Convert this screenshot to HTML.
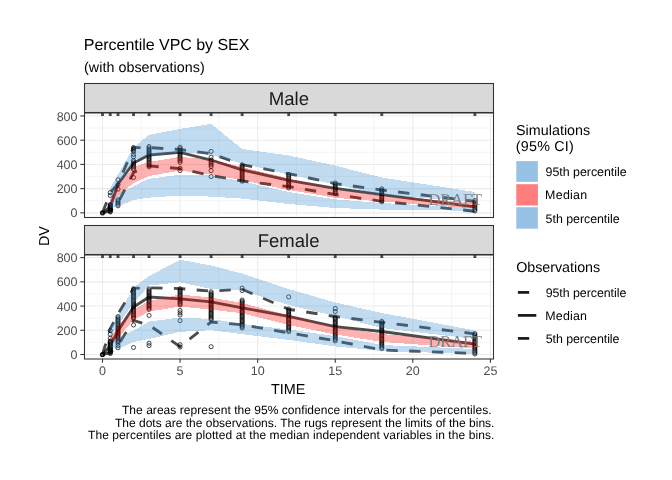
<!DOCTYPE html>
<html><head><meta charset="utf-8"><style>html,body{margin:0;padding:0;background:#fff;}</style></head><body>
<svg width="672" height="480" viewBox="0 0 672 480" font-family="Liberation Sans, Arial, sans-serif" style="display:block;will-change:transform;text-rendering:geometricPrecision">
<defs><clipPath id="c1"><rect x="84.50" y="113.00" width="409.00" height="104.50"/></clipPath><clipPath id="c2"><rect x="84.50" y="255.00" width="409.00" height="104.00"/></clipPath></defs>
<rect width="672" height="480" fill="#fff"/>
<text x="83.82" y="49.60" font-size="16.00" fill="#000" textLength="165.58" lengthAdjust="spacing">Percentile VPC by SEX</text>
<text x="84.04" y="71.80" font-size="14.30" fill="#000" textLength="120.61" lengthAdjust="spacing">(with observations)</text>
<rect x="84.50" y="83.50" width="409.00" height="29.00" fill="#D9D9D9" stroke="#333" stroke-width="1.07"/>
<text x="288.95" y="105.1" text-anchor="middle" font-size="18.6" fill="#1A1A1A">Male</text>
<rect x="84.50" y="225.50" width="409.00" height="29.00" fill="#D9D9D9" stroke="#333" stroke-width="1.07"/>
<text x="288.6" y="247.0" text-anchor="middle" font-size="18.5" fill="#1A1A1A">Female</text>
<rect x="84.50" y="113.00" width="409.00" height="104.50" fill="#fff"/>
<line x1="84.50" x2="493.50" y1="200.74" y2="200.74" stroke="#EBEBEB" stroke-width="0.53"/>
<line x1="84.50" x2="493.50" y1="176.52" y2="176.52" stroke="#EBEBEB" stroke-width="0.53"/>
<line x1="84.50" x2="493.50" y1="152.30" y2="152.30" stroke="#EBEBEB" stroke-width="0.53"/>
<line x1="84.50" x2="493.50" y1="128.08" y2="128.08" stroke="#EBEBEB" stroke-width="0.53"/>
<line x1="141.29" x2="141.29" y1="113.00" y2="217.50" stroke="#EBEBEB" stroke-width="0.53"/>
<line x1="218.87" x2="218.87" y1="113.00" y2="217.50" stroke="#EBEBEB" stroke-width="0.53"/>
<line x1="296.45" x2="296.45" y1="113.00" y2="217.50" stroke="#EBEBEB" stroke-width="0.53"/>
<line x1="374.03" x2="374.03" y1="113.00" y2="217.50" stroke="#EBEBEB" stroke-width="0.53"/>
<line x1="451.61" x2="451.61" y1="113.00" y2="217.50" stroke="#EBEBEB" stroke-width="0.53"/>
<line x1="84.50" x2="493.50" y1="212.85" y2="212.85" stroke="#EBEBEB" stroke-width="1.07"/>
<line x1="84.50" x2="493.50" y1="188.63" y2="188.63" stroke="#EBEBEB" stroke-width="1.07"/>
<line x1="84.50" x2="493.50" y1="164.41" y2="164.41" stroke="#EBEBEB" stroke-width="1.07"/>
<line x1="84.50" x2="493.50" y1="140.19" y2="140.19" stroke="#EBEBEB" stroke-width="1.07"/>
<line x1="84.50" x2="493.50" y1="115.97" y2="115.97" stroke="#EBEBEB" stroke-width="1.07"/>
<line x1="102.50" x2="102.50" y1="113.00" y2="217.50" stroke="#EBEBEB" stroke-width="1.07"/>
<line x1="180.08" x2="180.08" y1="113.00" y2="217.50" stroke="#EBEBEB" stroke-width="1.07"/>
<line x1="257.66" x2="257.66" y1="113.00" y2="217.50" stroke="#EBEBEB" stroke-width="1.07"/>
<line x1="335.24" x2="335.24" y1="113.00" y2="217.50" stroke="#EBEBEB" stroke-width="1.07"/>
<line x1="412.82" x2="412.82" y1="113.00" y2="217.50" stroke="#EBEBEB" stroke-width="1.07"/>
<line x1="490.40" x2="490.40" y1="113.00" y2="217.50" stroke="#EBEBEB" stroke-width="1.07"/>
<g clip-path="url(#c1)">
<g stroke="#000" stroke-opacity="0.7" stroke-width="2.85">
<line x1="102.50" x2="102.50" y1="113.00" y2="116.10"/>
<line x1="110.26" x2="110.26" y1="113.00" y2="116.10"/>
<line x1="118.02" x2="118.02" y1="113.00" y2="116.10"/>
<line x1="133.53" x2="133.53" y1="113.00" y2="116.10"/>
<line x1="149.05" x2="149.05" y1="113.00" y2="116.10"/>
<line x1="180.08" x2="180.08" y1="113.00" y2="116.10"/>
<line x1="211.11" x2="211.11" y1="113.00" y2="116.10"/>
<line x1="242.14" x2="242.14" y1="113.00" y2="116.10"/>
<line x1="288.69" x2="288.69" y1="113.00" y2="116.10"/>
<line x1="335.24" x2="335.24" y1="113.00" y2="116.10"/>
<line x1="381.79" x2="381.79" y1="113.00" y2="116.10"/>
<line x1="474.88" x2="474.88" y1="113.00" y2="116.10"/>
</g>
<g fill="none" stroke="#000" stroke-opacity="0.7" stroke-width="1">
<circle cx="110.26" cy="192.60" r="2.05"/>
<circle cx="110.26" cy="195.40" r="2.05"/>
<circle cx="110.26" cy="204.60" r="2.05"/>
<circle cx="110.26" cy="205.27" r="2.05"/>
<circle cx="110.26" cy="205.95" r="2.05"/>
<circle cx="110.26" cy="206.62" r="2.05"/>
<circle cx="110.26" cy="207.29" r="2.05"/>
<circle cx="110.26" cy="207.96" r="2.05"/>
<circle cx="110.26" cy="208.64" r="2.05"/>
<circle cx="110.26" cy="209.31" r="2.05"/>
<circle cx="110.26" cy="209.98" r="2.05"/>
<circle cx="110.26" cy="210.65" r="2.05"/>
<circle cx="110.26" cy="211.33" r="2.05"/>
<circle cx="110.26" cy="212.00" r="2.05"/>
<circle cx="118.02" cy="179.80" r="2.05"/>
<circle cx="118.02" cy="184.60" r="2.05"/>
<circle cx="118.02" cy="189.20" r="2.05"/>
<circle cx="118.02" cy="199.70" r="2.05"/>
<circle cx="118.02" cy="201.22" r="2.05"/>
<circle cx="118.02" cy="202.75" r="2.05"/>
<circle cx="118.02" cy="204.28" r="2.05"/>
<circle cx="118.02" cy="205.80" r="2.05"/>
<circle cx="133.53" cy="147.50" r="2.05"/>
<circle cx="133.53" cy="148.83" r="2.05"/>
<circle cx="133.53" cy="150.17" r="2.05"/>
<circle cx="133.53" cy="151.50" r="2.05"/>
<circle cx="133.53" cy="154.50" r="2.05"/>
<circle cx="133.53" cy="156.80" r="2.05"/>
<circle cx="133.53" cy="160.50" r="2.05"/>
<circle cx="133.53" cy="162.00" r="2.05"/>
<circle cx="133.53" cy="163.50" r="2.05"/>
<circle cx="133.53" cy="165.00" r="2.05"/>
<circle cx="133.53" cy="166.50" r="2.05"/>
<circle cx="133.53" cy="168.00" r="2.05"/>
<circle cx="133.53" cy="169.50" r="2.05"/>
<circle cx="133.53" cy="177.50" r="2.05"/>
<circle cx="149.05" cy="146.50" r="2.05"/>
<circle cx="149.05" cy="147.95" r="2.05"/>
<circle cx="149.05" cy="149.40" r="2.05"/>
<circle cx="149.05" cy="150.85" r="2.05"/>
<circle cx="149.05" cy="152.30" r="2.05"/>
<circle cx="149.05" cy="153.75" r="2.05"/>
<circle cx="149.05" cy="155.20" r="2.05"/>
<circle cx="149.05" cy="156.65" r="2.05"/>
<circle cx="149.05" cy="158.10" r="2.05"/>
<circle cx="149.05" cy="159.55" r="2.05"/>
<circle cx="149.05" cy="161.00" r="2.05"/>
<circle cx="149.05" cy="162.45" r="2.05"/>
<circle cx="149.05" cy="163.90" r="2.05"/>
<circle cx="149.05" cy="165.35" r="2.05"/>
<circle cx="149.05" cy="166.80" r="2.05"/>
<circle cx="180.08" cy="147.20" r="2.05"/>
<circle cx="180.08" cy="148.71" r="2.05"/>
<circle cx="180.08" cy="150.22" r="2.05"/>
<circle cx="180.08" cy="151.73" r="2.05"/>
<circle cx="180.08" cy="153.24" r="2.05"/>
<circle cx="180.08" cy="154.75" r="2.05"/>
<circle cx="180.08" cy="156.26" r="2.05"/>
<circle cx="180.08" cy="157.77" r="2.05"/>
<circle cx="180.08" cy="159.28" r="2.05"/>
<circle cx="180.08" cy="160.79" r="2.05"/>
<circle cx="180.08" cy="162.30" r="2.05"/>
<circle cx="180.08" cy="168.30" r="2.05"/>
<circle cx="180.08" cy="170.60" r="2.05"/>
<circle cx="211.11" cy="151.40" r="2.05"/>
<circle cx="211.11" cy="157.20" r="2.05"/>
<circle cx="211.11" cy="160.00" r="2.05"/>
<circle cx="211.11" cy="161.65" r="2.05"/>
<circle cx="211.11" cy="163.30" r="2.05"/>
<circle cx="211.11" cy="164.95" r="2.05"/>
<circle cx="211.11" cy="166.60" r="2.05"/>
<circle cx="211.11" cy="170.60" r="2.05"/>
<circle cx="211.11" cy="176.60" r="2.05"/>
<circle cx="242.14" cy="164.80" r="2.05"/>
<circle cx="242.14" cy="166.29" r="2.05"/>
<circle cx="242.14" cy="167.78" r="2.05"/>
<circle cx="242.14" cy="169.27" r="2.05"/>
<circle cx="242.14" cy="170.76" r="2.05"/>
<circle cx="242.14" cy="172.25" r="2.05"/>
<circle cx="242.14" cy="173.75" r="2.05"/>
<circle cx="242.14" cy="175.24" r="2.05"/>
<circle cx="242.14" cy="176.73" r="2.05"/>
<circle cx="242.14" cy="178.22" r="2.05"/>
<circle cx="242.14" cy="179.71" r="2.05"/>
<circle cx="242.14" cy="181.20" r="2.05"/>
<circle cx="288.69" cy="174.50" r="2.05"/>
<circle cx="288.69" cy="176.00" r="2.05"/>
<circle cx="288.69" cy="177.50" r="2.05"/>
<circle cx="288.69" cy="179.00" r="2.05"/>
<circle cx="288.69" cy="180.50" r="2.05"/>
<circle cx="288.69" cy="182.00" r="2.05"/>
<circle cx="288.69" cy="183.50" r="2.05"/>
<circle cx="288.69" cy="185.00" r="2.05"/>
<circle cx="288.69" cy="186.50" r="2.05"/>
<circle cx="288.69" cy="188.00" r="2.05"/>
<circle cx="335.24" cy="183.00" r="2.05"/>
<circle cx="335.24" cy="184.49" r="2.05"/>
<circle cx="335.24" cy="185.97" r="2.05"/>
<circle cx="335.24" cy="187.46" r="2.05"/>
<circle cx="335.24" cy="188.94" r="2.05"/>
<circle cx="335.24" cy="190.43" r="2.05"/>
<circle cx="335.24" cy="191.91" r="2.05"/>
<circle cx="335.24" cy="193.40" r="2.05"/>
<circle cx="381.79" cy="188.80" r="2.05"/>
<circle cx="381.79" cy="190.24" r="2.05"/>
<circle cx="381.79" cy="191.69" r="2.05"/>
<circle cx="381.79" cy="193.13" r="2.05"/>
<circle cx="381.79" cy="194.58" r="2.05"/>
<circle cx="381.79" cy="196.02" r="2.05"/>
<circle cx="381.79" cy="197.47" r="2.05"/>
<circle cx="381.79" cy="198.91" r="2.05"/>
<circle cx="381.79" cy="200.36" r="2.05"/>
<circle cx="381.79" cy="201.80" r="2.05"/>
<circle cx="474.88" cy="200.50" r="2.05"/>
<circle cx="474.88" cy="202.00" r="2.05"/>
<circle cx="474.88" cy="203.50" r="2.05"/>
<circle cx="474.88" cy="205.00" r="2.05"/>
<circle cx="474.88" cy="206.50" r="2.05"/>
<circle cx="474.88" cy="208.00" r="2.05"/>
<circle cx="474.88" cy="209.50" r="2.05"/>
<circle cx="474.88" cy="211.00" r="2.05"/>
</g>
<circle cx="102.50" cy="212.85" r="1.75" fill="none" stroke="#000" stroke-opacity="0.92" stroke-width="1.7"/>
<g fill="none" stroke="#000" stroke-opacity="0.7" stroke-width="2.85">
<polyline points="102.50,212.80 110.26,207.00 118.02,184.00 133.53,163.00 149.05,155.00 180.08,152.40 211.11,160.00 242.14,169.80 288.69,180.30 335.24,188.40 381.79,194.60 474.88,206.80"/>
<polyline points="102.50,212.80 110.26,192.60 118.02,184.00 133.53,147.60 149.05,147.60 180.08,149.50 211.11,153.80 242.14,164.60 288.69,173.60 335.24,183.60 381.79,190.00 474.88,201.30" stroke-dasharray="11.4 11.4"/>
<polyline points="102.50,212.80 110.26,211.00 118.02,203.00 133.53,172.50 149.05,165.90 180.08,168.60 211.11,175.60 242.14,181.00 288.69,186.60 335.24,194.50 381.79,201.30 474.88,211.30" stroke-dasharray="11.4 11.4"/>
</g>
<polygon points="110.26,188.00 118.02,174.50 133.53,147.50 149.05,134.80 180.08,128.90 211.11,123.90 242.14,149.00 288.69,155.50 335.24,165.60 381.79,177.50 474.88,192.00 474.88,202.00 381.79,194.50 335.24,184.50 288.69,174.50 242.14,163.50 211.11,155.00 180.08,152.00 149.05,155.40 133.53,160.00 118.02,185.50 110.26,199.00" fill="#3388cc" fill-opacity="0.3" shape-rendering="crispEdges"/>
<polygon points="110.26,199.50 118.02,184.50 133.53,167.00 149.05,161.90 180.08,156.80 211.11,159.80 242.14,167.00 288.69,178.50 335.24,189.50 381.79,196.00 474.88,202.50 474.88,208.50 381.79,201.50 335.24,197.80 288.69,190.00 242.14,180.30 211.11,174.50 180.08,170.60 149.05,176.00 133.53,183.10 118.02,195.50 110.26,204.00" fill="#ff0000" fill-opacity="0.3" shape-rendering="crispEdges"/>
<polygon points="110.26,204.50 118.02,194.00 133.53,186.30 149.05,178.70 180.08,174.80 211.11,175.50 242.14,181.30 288.69,192.00 335.24,199.40 381.79,203.00 474.88,208.00 474.88,210.80 381.79,209.60 335.24,208.00 288.69,204.00 242.14,198.60 211.11,196.60 180.08,195.60 149.05,197.60 133.53,200.00 118.02,206.50 110.26,208.00" fill="#3388cc" fill-opacity="0.3" shape-rendering="crispEdges"/>
</g>
<text x="428.55" y="204.80" font-size="16.50" fill="#7F7F7F" textLength="53.52" lengthAdjust="spacing" font-family="Liberation Serif, Times New Roman, serif">DRAFT</text>
<rect x="84.50" y="113.00" width="409.00" height="104.50" fill="none" stroke="#333" stroke-width="1.07"/>
<rect x="84.50" y="255.00" width="409.00" height="104.00" fill="#fff"/>
<line x1="84.50" x2="493.50" y1="342.39" y2="342.39" stroke="#EBEBEB" stroke-width="0.53"/>
<line x1="84.50" x2="493.50" y1="318.17" y2="318.17" stroke="#EBEBEB" stroke-width="0.53"/>
<line x1="84.50" x2="493.50" y1="293.95" y2="293.95" stroke="#EBEBEB" stroke-width="0.53"/>
<line x1="84.50" x2="493.50" y1="269.73" y2="269.73" stroke="#EBEBEB" stroke-width="0.53"/>
<line x1="141.29" x2="141.29" y1="255.00" y2="359.00" stroke="#EBEBEB" stroke-width="0.53"/>
<line x1="218.87" x2="218.87" y1="255.00" y2="359.00" stroke="#EBEBEB" stroke-width="0.53"/>
<line x1="296.45" x2="296.45" y1="255.00" y2="359.00" stroke="#EBEBEB" stroke-width="0.53"/>
<line x1="374.03" x2="374.03" y1="255.00" y2="359.00" stroke="#EBEBEB" stroke-width="0.53"/>
<line x1="451.61" x2="451.61" y1="255.00" y2="359.00" stroke="#EBEBEB" stroke-width="0.53"/>
<line x1="84.50" x2="493.50" y1="354.50" y2="354.50" stroke="#EBEBEB" stroke-width="1.07"/>
<line x1="84.50" x2="493.50" y1="330.28" y2="330.28" stroke="#EBEBEB" stroke-width="1.07"/>
<line x1="84.50" x2="493.50" y1="306.06" y2="306.06" stroke="#EBEBEB" stroke-width="1.07"/>
<line x1="84.50" x2="493.50" y1="281.84" y2="281.84" stroke="#EBEBEB" stroke-width="1.07"/>
<line x1="84.50" x2="493.50" y1="257.62" y2="257.62" stroke="#EBEBEB" stroke-width="1.07"/>
<line x1="102.50" x2="102.50" y1="255.00" y2="359.00" stroke="#EBEBEB" stroke-width="1.07"/>
<line x1="180.08" x2="180.08" y1="255.00" y2="359.00" stroke="#EBEBEB" stroke-width="1.07"/>
<line x1="257.66" x2="257.66" y1="255.00" y2="359.00" stroke="#EBEBEB" stroke-width="1.07"/>
<line x1="335.24" x2="335.24" y1="255.00" y2="359.00" stroke="#EBEBEB" stroke-width="1.07"/>
<line x1="412.82" x2="412.82" y1="255.00" y2="359.00" stroke="#EBEBEB" stroke-width="1.07"/>
<line x1="490.40" x2="490.40" y1="255.00" y2="359.00" stroke="#EBEBEB" stroke-width="1.07"/>
<g clip-path="url(#c2)">
<g stroke="#000" stroke-opacity="0.7" stroke-width="2.85">
<line x1="102.50" x2="102.50" y1="255.00" y2="258.10"/>
<line x1="110.26" x2="110.26" y1="255.00" y2="258.10"/>
<line x1="118.02" x2="118.02" y1="255.00" y2="258.10"/>
<line x1="133.53" x2="133.53" y1="255.00" y2="258.10"/>
<line x1="149.05" x2="149.05" y1="255.00" y2="258.10"/>
<line x1="180.08" x2="180.08" y1="255.00" y2="258.10"/>
<line x1="211.11" x2="211.11" y1="255.00" y2="258.10"/>
<line x1="242.14" x2="242.14" y1="255.00" y2="258.10"/>
<line x1="288.69" x2="288.69" y1="255.00" y2="258.10"/>
<line x1="335.24" x2="335.24" y1="255.00" y2="258.10"/>
<line x1="381.79" x2="381.79" y1="255.00" y2="258.10"/>
<line x1="474.88" x2="474.88" y1="255.00" y2="258.10"/>
</g>
<g fill="none" stroke="#000" stroke-opacity="0.7" stroke-width="1">
<circle cx="110.26" cy="330.60" r="2.05"/>
<circle cx="110.26" cy="334.30" r="2.05"/>
<circle cx="110.26" cy="338.20" r="2.05"/>
<circle cx="110.26" cy="341.00" r="2.05"/>
<circle cx="110.26" cy="341.69" r="2.05"/>
<circle cx="110.26" cy="342.39" r="2.05"/>
<circle cx="110.26" cy="343.08" r="2.05"/>
<circle cx="110.26" cy="343.78" r="2.05"/>
<circle cx="110.26" cy="344.47" r="2.05"/>
<circle cx="110.26" cy="345.17" r="2.05"/>
<circle cx="110.26" cy="345.86" r="2.05"/>
<circle cx="110.26" cy="346.56" r="2.05"/>
<circle cx="110.26" cy="347.25" r="2.05"/>
<circle cx="110.26" cy="347.94" r="2.05"/>
<circle cx="110.26" cy="348.64" r="2.05"/>
<circle cx="110.26" cy="349.33" r="2.05"/>
<circle cx="110.26" cy="350.03" r="2.05"/>
<circle cx="110.26" cy="350.72" r="2.05"/>
<circle cx="110.26" cy="351.42" r="2.05"/>
<circle cx="110.26" cy="352.11" r="2.05"/>
<circle cx="110.26" cy="352.81" r="2.05"/>
<circle cx="110.26" cy="353.50" r="2.05"/>
<circle cx="118.02" cy="316.60" r="2.05"/>
<circle cx="118.02" cy="317.92" r="2.05"/>
<circle cx="118.02" cy="319.24" r="2.05"/>
<circle cx="118.02" cy="320.56" r="2.05"/>
<circle cx="118.02" cy="321.88" r="2.05"/>
<circle cx="118.02" cy="323.20" r="2.05"/>
<circle cx="118.02" cy="324.52" r="2.05"/>
<circle cx="118.02" cy="325.84" r="2.05"/>
<circle cx="118.02" cy="327.16" r="2.05"/>
<circle cx="118.02" cy="328.48" r="2.05"/>
<circle cx="118.02" cy="329.80" r="2.05"/>
<circle cx="118.02" cy="331.12" r="2.05"/>
<circle cx="118.02" cy="332.44" r="2.05"/>
<circle cx="118.02" cy="333.76" r="2.05"/>
<circle cx="118.02" cy="335.08" r="2.05"/>
<circle cx="118.02" cy="336.40" r="2.05"/>
<circle cx="118.02" cy="337.72" r="2.05"/>
<circle cx="118.02" cy="339.04" r="2.05"/>
<circle cx="118.02" cy="340.36" r="2.05"/>
<circle cx="118.02" cy="341.68" r="2.05"/>
<circle cx="118.02" cy="343.00" r="2.05"/>
<circle cx="118.02" cy="345.50" r="2.05"/>
<circle cx="118.02" cy="347.80" r="2.05"/>
<circle cx="133.53" cy="288.80" r="2.05"/>
<circle cx="133.53" cy="290.08" r="2.05"/>
<circle cx="133.53" cy="291.37" r="2.05"/>
<circle cx="133.53" cy="292.65" r="2.05"/>
<circle cx="133.53" cy="293.93" r="2.05"/>
<circle cx="133.53" cy="295.21" r="2.05"/>
<circle cx="133.53" cy="296.50" r="2.05"/>
<circle cx="133.53" cy="297.78" r="2.05"/>
<circle cx="133.53" cy="299.06" r="2.05"/>
<circle cx="133.53" cy="300.34" r="2.05"/>
<circle cx="133.53" cy="301.63" r="2.05"/>
<circle cx="133.53" cy="302.91" r="2.05"/>
<circle cx="133.53" cy="304.19" r="2.05"/>
<circle cx="133.53" cy="305.47" r="2.05"/>
<circle cx="133.53" cy="306.76" r="2.05"/>
<circle cx="133.53" cy="308.04" r="2.05"/>
<circle cx="133.53" cy="309.32" r="2.05"/>
<circle cx="133.53" cy="310.60" r="2.05"/>
<circle cx="133.53" cy="311.89" r="2.05"/>
<circle cx="133.53" cy="313.17" r="2.05"/>
<circle cx="133.53" cy="314.45" r="2.05"/>
<circle cx="133.53" cy="315.73" r="2.05"/>
<circle cx="133.53" cy="317.02" r="2.05"/>
<circle cx="133.53" cy="318.30" r="2.05"/>
<circle cx="133.53" cy="325.00" r="2.05"/>
<circle cx="133.53" cy="347.50" r="2.05"/>
<circle cx="149.05" cy="288.80" r="2.05"/>
<circle cx="149.05" cy="290.09" r="2.05"/>
<circle cx="149.05" cy="291.38" r="2.05"/>
<circle cx="149.05" cy="292.66" r="2.05"/>
<circle cx="149.05" cy="293.95" r="2.05"/>
<circle cx="149.05" cy="295.24" r="2.05"/>
<circle cx="149.05" cy="296.52" r="2.05"/>
<circle cx="149.05" cy="297.81" r="2.05"/>
<circle cx="149.05" cy="299.10" r="2.05"/>
<circle cx="149.05" cy="300.39" r="2.05"/>
<circle cx="149.05" cy="301.68" r="2.05"/>
<circle cx="149.05" cy="302.96" r="2.05"/>
<circle cx="149.05" cy="304.25" r="2.05"/>
<circle cx="149.05" cy="305.54" r="2.05"/>
<circle cx="149.05" cy="306.82" r="2.05"/>
<circle cx="149.05" cy="308.11" r="2.05"/>
<circle cx="149.05" cy="309.40" r="2.05"/>
<circle cx="149.05" cy="315.50" r="2.05"/>
<circle cx="149.05" cy="343.20" r="2.05"/>
<circle cx="149.05" cy="345.60" r="2.05"/>
<circle cx="180.08" cy="288.80" r="2.05"/>
<circle cx="180.08" cy="290.15" r="2.05"/>
<circle cx="180.08" cy="291.50" r="2.05"/>
<circle cx="180.08" cy="292.85" r="2.05"/>
<circle cx="180.08" cy="294.20" r="2.05"/>
<circle cx="180.08" cy="295.55" r="2.05"/>
<circle cx="180.08" cy="296.90" r="2.05"/>
<circle cx="180.08" cy="298.25" r="2.05"/>
<circle cx="180.08" cy="299.60" r="2.05"/>
<circle cx="180.08" cy="300.95" r="2.05"/>
<circle cx="180.08" cy="302.30" r="2.05"/>
<circle cx="180.08" cy="303.65" r="2.05"/>
<circle cx="180.08" cy="305.00" r="2.05"/>
<circle cx="180.08" cy="310.50" r="2.05"/>
<circle cx="180.08" cy="312.80" r="2.05"/>
<circle cx="180.08" cy="315.00" r="2.05"/>
<circle cx="180.08" cy="320.60" r="2.05"/>
<circle cx="180.08" cy="344.70" r="2.05"/>
<circle cx="180.08" cy="347.00" r="2.05"/>
<circle cx="211.11" cy="291.80" r="2.05"/>
<circle cx="211.11" cy="293.07" r="2.05"/>
<circle cx="211.11" cy="294.35" r="2.05"/>
<circle cx="211.11" cy="295.62" r="2.05"/>
<circle cx="211.11" cy="296.89" r="2.05"/>
<circle cx="211.11" cy="298.16" r="2.05"/>
<circle cx="211.11" cy="299.44" r="2.05"/>
<circle cx="211.11" cy="300.71" r="2.05"/>
<circle cx="211.11" cy="301.98" r="2.05"/>
<circle cx="211.11" cy="303.25" r="2.05"/>
<circle cx="211.11" cy="304.53" r="2.05"/>
<circle cx="211.11" cy="305.80" r="2.05"/>
<circle cx="211.11" cy="307.07" r="2.05"/>
<circle cx="211.11" cy="308.35" r="2.05"/>
<circle cx="211.11" cy="309.62" r="2.05"/>
<circle cx="211.11" cy="310.89" r="2.05"/>
<circle cx="211.11" cy="312.16" r="2.05"/>
<circle cx="211.11" cy="313.44" r="2.05"/>
<circle cx="211.11" cy="314.71" r="2.05"/>
<circle cx="211.11" cy="315.98" r="2.05"/>
<circle cx="211.11" cy="317.25" r="2.05"/>
<circle cx="211.11" cy="318.53" r="2.05"/>
<circle cx="211.11" cy="319.80" r="2.05"/>
<circle cx="211.11" cy="346.70" r="2.05"/>
<circle cx="242.14" cy="288.10" r="2.05"/>
<circle cx="242.14" cy="290.60" r="2.05"/>
<circle cx="242.14" cy="300.00" r="2.05"/>
<circle cx="242.14" cy="301.27" r="2.05"/>
<circle cx="242.14" cy="302.55" r="2.05"/>
<circle cx="242.14" cy="303.82" r="2.05"/>
<circle cx="242.14" cy="305.09" r="2.05"/>
<circle cx="242.14" cy="306.36" r="2.05"/>
<circle cx="242.14" cy="307.64" r="2.05"/>
<circle cx="242.14" cy="308.91" r="2.05"/>
<circle cx="242.14" cy="310.18" r="2.05"/>
<circle cx="242.14" cy="311.45" r="2.05"/>
<circle cx="242.14" cy="312.73" r="2.05"/>
<circle cx="242.14" cy="314.00" r="2.05"/>
<circle cx="242.14" cy="315.27" r="2.05"/>
<circle cx="242.14" cy="316.55" r="2.05"/>
<circle cx="242.14" cy="317.82" r="2.05"/>
<circle cx="242.14" cy="319.09" r="2.05"/>
<circle cx="242.14" cy="320.36" r="2.05"/>
<circle cx="242.14" cy="321.64" r="2.05"/>
<circle cx="242.14" cy="322.91" r="2.05"/>
<circle cx="242.14" cy="324.18" r="2.05"/>
<circle cx="242.14" cy="325.45" r="2.05"/>
<circle cx="242.14" cy="326.73" r="2.05"/>
<circle cx="242.14" cy="328.00" r="2.05"/>
<circle cx="288.69" cy="296.90" r="2.05"/>
<circle cx="288.69" cy="309.00" r="2.05"/>
<circle cx="288.69" cy="310.33" r="2.05"/>
<circle cx="288.69" cy="311.66" r="2.05"/>
<circle cx="288.69" cy="312.99" r="2.05"/>
<circle cx="288.69" cy="314.32" r="2.05"/>
<circle cx="288.69" cy="315.65" r="2.05"/>
<circle cx="288.69" cy="316.98" r="2.05"/>
<circle cx="288.69" cy="318.31" r="2.05"/>
<circle cx="288.69" cy="319.64" r="2.05"/>
<circle cx="288.69" cy="320.96" r="2.05"/>
<circle cx="288.69" cy="322.29" r="2.05"/>
<circle cx="288.69" cy="323.62" r="2.05"/>
<circle cx="288.69" cy="324.95" r="2.05"/>
<circle cx="288.69" cy="326.28" r="2.05"/>
<circle cx="288.69" cy="327.61" r="2.05"/>
<circle cx="288.69" cy="328.94" r="2.05"/>
<circle cx="288.69" cy="330.27" r="2.05"/>
<circle cx="288.69" cy="331.60" r="2.05"/>
<circle cx="335.24" cy="308.50" r="2.05"/>
<circle cx="335.24" cy="311.50" r="2.05"/>
<circle cx="335.24" cy="317.20" r="2.05"/>
<circle cx="335.24" cy="318.51" r="2.05"/>
<circle cx="335.24" cy="319.82" r="2.05"/>
<circle cx="335.24" cy="321.13" r="2.05"/>
<circle cx="335.24" cy="322.44" r="2.05"/>
<circle cx="335.24" cy="323.76" r="2.05"/>
<circle cx="335.24" cy="325.07" r="2.05"/>
<circle cx="335.24" cy="326.38" r="2.05"/>
<circle cx="335.24" cy="327.69" r="2.05"/>
<circle cx="335.24" cy="329.00" r="2.05"/>
<circle cx="335.24" cy="330.31" r="2.05"/>
<circle cx="335.24" cy="331.62" r="2.05"/>
<circle cx="335.24" cy="332.93" r="2.05"/>
<circle cx="335.24" cy="334.24" r="2.05"/>
<circle cx="335.24" cy="335.56" r="2.05"/>
<circle cx="335.24" cy="336.87" r="2.05"/>
<circle cx="335.24" cy="338.18" r="2.05"/>
<circle cx="335.24" cy="339.49" r="2.05"/>
<circle cx="335.24" cy="340.80" r="2.05"/>
<circle cx="381.79" cy="321.40" r="2.05"/>
<circle cx="381.79" cy="322.70" r="2.05"/>
<circle cx="381.79" cy="323.99" r="2.05"/>
<circle cx="381.79" cy="325.29" r="2.05"/>
<circle cx="381.79" cy="326.58" r="2.05"/>
<circle cx="381.79" cy="327.88" r="2.05"/>
<circle cx="381.79" cy="329.17" r="2.05"/>
<circle cx="381.79" cy="330.47" r="2.05"/>
<circle cx="381.79" cy="331.76" r="2.05"/>
<circle cx="381.79" cy="333.06" r="2.05"/>
<circle cx="381.79" cy="334.35" r="2.05"/>
<circle cx="381.79" cy="335.65" r="2.05"/>
<circle cx="381.79" cy="336.94" r="2.05"/>
<circle cx="381.79" cy="338.24" r="2.05"/>
<circle cx="381.79" cy="339.53" r="2.05"/>
<circle cx="381.79" cy="340.83" r="2.05"/>
<circle cx="381.79" cy="342.12" r="2.05"/>
<circle cx="381.79" cy="343.42" r="2.05"/>
<circle cx="381.79" cy="344.71" r="2.05"/>
<circle cx="381.79" cy="346.01" r="2.05"/>
<circle cx="381.79" cy="347.30" r="2.05"/>
<circle cx="381.79" cy="348.60" r="2.05"/>
<circle cx="474.88" cy="333.60" r="2.05"/>
<circle cx="474.88" cy="334.88" r="2.05"/>
<circle cx="474.88" cy="336.15" r="2.05"/>
<circle cx="474.88" cy="337.43" r="2.05"/>
<circle cx="474.88" cy="338.70" r="2.05"/>
<circle cx="474.88" cy="339.98" r="2.05"/>
<circle cx="474.88" cy="341.25" r="2.05"/>
<circle cx="474.88" cy="342.53" r="2.05"/>
<circle cx="474.88" cy="343.80" r="2.05"/>
<circle cx="474.88" cy="345.07" r="2.05"/>
<circle cx="474.88" cy="346.35" r="2.05"/>
<circle cx="474.88" cy="347.62" r="2.05"/>
<circle cx="474.88" cy="348.90" r="2.05"/>
<circle cx="474.88" cy="350.18" r="2.05"/>
<circle cx="474.88" cy="351.45" r="2.05"/>
<circle cx="474.88" cy="352.73" r="2.05"/>
<circle cx="474.88" cy="354.00" r="2.05"/>
</g>
<circle cx="102.50" cy="354.50" r="1.75" fill="none" stroke="#000" stroke-opacity="0.92" stroke-width="1.7"/>
<g fill="none" stroke="#000" stroke-opacity="0.7" stroke-width="2.85">
<polyline points="102.50,354.50 110.26,346.00 118.02,330.60 133.53,307.00 149.05,297.00 180.08,298.80 211.11,301.90 242.14,307.80 288.69,316.40 335.24,326.70 381.79,331.50 474.88,344.20"/>
<polyline points="102.50,354.50 110.26,328.70 118.02,314.00 133.53,288.30 149.05,287.80 180.08,288.60 211.11,291.20 242.14,289.20 288.69,309.30 335.24,316.50 381.79,322.30 474.88,333.80" stroke-dasharray="11.4 11.4"/>
<polyline points="102.50,354.50 110.26,352.60 118.02,345.20 133.53,320.50 149.05,325.00 180.08,346.70 211.11,322.00 242.14,324.80 288.69,332.80 335.24,340.80 381.79,350.00 474.88,353.40" stroke-dasharray="11.4 11.4"/>
</g>
<polygon points="110.26,328.00 118.02,315.50 133.53,287.50 149.05,276.00 180.08,259.70 211.11,265.50 242.14,273.50 288.69,289.00 335.24,302.50 381.79,313.00 474.88,330.40 474.88,339.00 381.79,328.00 335.24,316.00 288.69,305.00 242.14,290.50 211.11,289.00 180.08,282.30 149.05,285.50 133.53,303.00 118.02,325.00 110.26,338.00" fill="#3388cc" fill-opacity="0.3" shape-rendering="crispEdges"/>
<polygon points="110.26,338.50 118.02,326.00 133.53,309.50 149.05,301.00 180.08,294.50 211.11,297.50 242.14,303.00 288.69,315.50 335.24,327.00 381.79,334.00 474.88,342.50 474.88,348.60 381.79,341.90 335.24,334.50 288.69,325.00 242.14,313.30 211.11,309.50 180.08,306.60 149.05,311.50 133.53,320.00 118.02,338.00 110.26,342.50" fill="#ff0000" fill-opacity="0.3" shape-rendering="crispEdges"/>
<polygon points="110.26,343.00 118.02,338.00 133.53,330.50 149.05,321.50 180.08,317.50 211.11,319.00 242.14,323.90 288.69,329.50 335.24,336.10 381.79,345.00 474.88,349.00 474.88,354.00 381.79,351.00 335.24,346.40 288.69,339.90 242.14,334.20 211.11,330.20 180.08,331.80 149.05,339.00 133.53,342.00 118.02,349.00 110.26,347.50" fill="#3388cc" fill-opacity="0.3" shape-rendering="crispEdges"/>
</g>
<text x="428.55" y="346.60" font-size="16.50" fill="#7F7F7F" textLength="53.52" lengthAdjust="spacing" font-family="Liberation Serif, Times New Roman, serif">DRAFT</text>
<rect x="84.50" y="255.00" width="409.00" height="104.00" fill="none" stroke="#333" stroke-width="1.07"/>
<line x1="80.3" x2="84.5" y1="212.85" y2="212.85" stroke="#333" stroke-width="1.07"/>
<text x="77.5" y="217.45" text-anchor="end" font-size="12.5" fill="#4D4D4D">0</text>
<line x1="80.3" x2="84.5" y1="188.63" y2="188.63" stroke="#333" stroke-width="1.07"/>
<text x="77.5" y="193.23" text-anchor="end" font-size="12.5" fill="#4D4D4D">200</text>
<line x1="80.3" x2="84.5" y1="164.41" y2="164.41" stroke="#333" stroke-width="1.07"/>
<text x="77.5" y="169.01" text-anchor="end" font-size="12.5" fill="#4D4D4D">400</text>
<line x1="80.3" x2="84.5" y1="140.19" y2="140.19" stroke="#333" stroke-width="1.07"/>
<text x="77.5" y="144.79" text-anchor="end" font-size="12.5" fill="#4D4D4D">600</text>
<line x1="80.3" x2="84.5" y1="115.97" y2="115.97" stroke="#333" stroke-width="1.07"/>
<text x="77.5" y="120.57" text-anchor="end" font-size="12.5" fill="#4D4D4D">800</text>
<line x1="80.3" x2="84.5" y1="354.50" y2="354.50" stroke="#333" stroke-width="1.07"/>
<text x="77.5" y="359.10" text-anchor="end" font-size="12.5" fill="#4D4D4D">0</text>
<line x1="80.3" x2="84.5" y1="330.28" y2="330.28" stroke="#333" stroke-width="1.07"/>
<text x="77.5" y="334.88" text-anchor="end" font-size="12.5" fill="#4D4D4D">200</text>
<line x1="80.3" x2="84.5" y1="306.06" y2="306.06" stroke="#333" stroke-width="1.07"/>
<text x="77.5" y="310.66" text-anchor="end" font-size="12.5" fill="#4D4D4D">400</text>
<line x1="80.3" x2="84.5" y1="281.84" y2="281.84" stroke="#333" stroke-width="1.07"/>
<text x="77.5" y="286.44" text-anchor="end" font-size="12.5" fill="#4D4D4D">600</text>
<line x1="80.3" x2="84.5" y1="257.62" y2="257.62" stroke="#333" stroke-width="1.07"/>
<text x="77.5" y="262.22" text-anchor="end" font-size="12.5" fill="#4D4D4D">800</text>
<line x1="102.50" x2="102.50" y1="359.00" y2="362.70" stroke="#333" stroke-width="1.07"/>
<text x="102.50" y="375.4" text-anchor="middle" font-size="12.5" fill="#4D4D4D">0</text>
<line x1="180.08" x2="180.08" y1="359.00" y2="362.70" stroke="#333" stroke-width="1.07"/>
<text x="180.08" y="375.4" text-anchor="middle" font-size="12.5" fill="#4D4D4D">5</text>
<line x1="257.66" x2="257.66" y1="359.00" y2="362.70" stroke="#333" stroke-width="1.07"/>
<text x="257.66" y="375.4" text-anchor="middle" font-size="12.5" fill="#4D4D4D">10</text>
<line x1="335.24" x2="335.24" y1="359.00" y2="362.70" stroke="#333" stroke-width="1.07"/>
<text x="335.24" y="375.4" text-anchor="middle" font-size="12.5" fill="#4D4D4D">15</text>
<line x1="412.82" x2="412.82" y1="359.00" y2="362.70" stroke="#333" stroke-width="1.07"/>
<text x="412.82" y="375.4" text-anchor="middle" font-size="12.5" fill="#4D4D4D">20</text>
<line x1="490.40" x2="490.40" y1="359.00" y2="362.70" stroke="#333" stroke-width="1.07"/>
<text x="490.40" y="375.4" text-anchor="middle" font-size="12.5" fill="#4D4D4D">25</text>
<text x="270.91" y="393.90" font-size="14.40" fill="#000" textLength="34.48" lengthAdjust="spacing">TIME</text>
<text transform="translate(49.1,236.1) rotate(-90)" text-anchor="middle" font-size="14.4" fill="#000">DV</text>
<text x="516.06" y="134.70" font-size="14.30" fill="#000" textLength="74.13" lengthAdjust="spacing">Simulations</text>
<text x="515.84" y="150.60" font-size="14.30" fill="#000" textLength="57.92" lengthAdjust="spacing">(95% CI)</text>
<rect x="516.3" y="161.10" width="21.6" height="20.80" fill="#3388cc" fill-opacity="0.51"/>
<text x="545.54" y="175.80" font-size="12.40" fill="#000" textLength="81.09" lengthAdjust="spacing">95th percentile</text>
<rect x="516.3" y="184.20" width="21.6" height="21.30" fill="#ff0000" fill-opacity="0.51"/>
<text x="545.11" y="199.00" font-size="12.40" fill="#000" textLength="42.10" lengthAdjust="spacing">Median</text>
<rect x="516.3" y="207.20" width="21.6" height="21.50" fill="#3388cc" fill-opacity="0.51"/>
<text x="545.60" y="222.60" font-size="12.40" fill="#000" textLength="74.04" lengthAdjust="spacing">5th percentile</text>
<text x="516.16" y="272.40" font-size="14.30" fill="#000" textLength="84.03" lengthAdjust="spacing">Observations</text>
<line x1="517.9" x2="536.3" y1="292.40" y2="292.40" stroke="#000" stroke-opacity="0.91" stroke-width="2.7" stroke-dasharray="11.3 11.3"/>
<text x="545.64" y="297.40" font-size="12.40" fill="#000" textLength="80.69" lengthAdjust="spacing">95th percentile</text>
<line x1="517.9" x2="536.3" y1="315.40" y2="315.40" stroke="#000" stroke-opacity="0.91" stroke-width="2.7" />
<text x="545.21" y="320.40" font-size="12.40" fill="#000" textLength="41.80" lengthAdjust="spacing">Median</text>
<line x1="517.9" x2="536.3" y1="338.40" y2="338.40" stroke="#000" stroke-opacity="0.91" stroke-width="2.7" stroke-dasharray="11.3 11.3"/>
<text x="545.70" y="343.40" font-size="12.40" fill="#000" textLength="73.74" lengthAdjust="spacing">5th percentile</text>
<text x="121.96" y="413.80" font-size="12.00" fill="#000" textLength="369.54" lengthAdjust="spacing">The areas represent the 95% confidence intervals for the percentiles.</text>
<text x="114.96" y="426.70" font-size="12.00" fill="#000" textLength="379.43" lengthAdjust="spacing">The dots are the observations. The rugs represent the limits of the bins.</text>
<text x="87.96" y="438.90" font-size="12.00" fill="#000" textLength="406.44" lengthAdjust="spacing">The percentiles are plotted at the median independent variables in the bins.</text>
</svg>
</body></html>
